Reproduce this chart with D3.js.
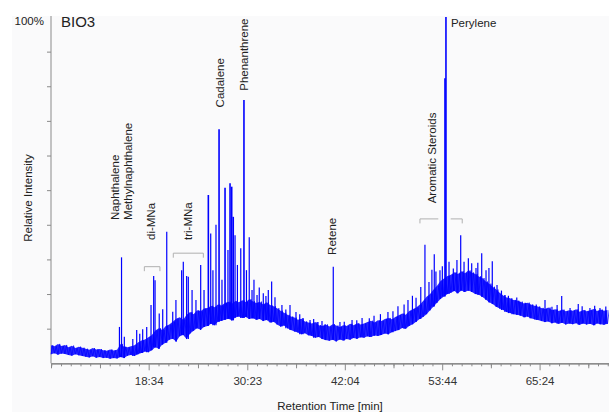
<!DOCTYPE html>
<html>
<head>
<meta charset="utf-8">
<script src="https://cdn.jsdelivr.net/npm/d3@7"></script>
<style>
  body { margin: 0; background: #fff; }
  svg { display: block; font-family: "Liberation Sans", Arial, sans-serif; }
</style>
</head>
<body>
<div id="chart-area"></div>
<script>
// chromatogram BIO3 - tiempo en segundos, intensidad en %
const majorTicks = [1114, 1823, 2524, 3224, 3924]
const tStart = 412, tEnd = 4423, tStep = 25

// envolvente del ruido de fondo (min / max por muestra)
const lowerEnv = [
  2.6,2.9,2.5,2.8,2.7, 2.4,2.2,2.6,2.3,2.1, 1.9,1.7,2.0,1.6,1.8, 1.5,1.6,1.3,1.5,1.4,
  1.8,1.5,2.2,2.4,2.1, 2.6,3.0,3.4,3.2,3.8, 4.6,4.2,5.4,5.9,6.8, 7.1,6.3,7.8,8.2,7.0,
  8.6,9.4,10.1,9.7,10.5, 10.8,11.4,11.0,12.0,12.3, 12.6,12.9,12.4,13.2,13.5, 13.1,13.4,12.8,13.0,12.6,
  12.8,12.2,12.5,11.8,12.0, 11.2,10.6,10.9,10.1,9.6, 9.2,8.9,8.4,8.7,8.1, 7.9,7.4,7.6,7.0,6.7,
  6.5,6.8,6.3,6.9,6.6, 7.0,6.8,7.3,7.1,7.5, 7.4,7.8,7.6,8.0,7.9, 8.2,8.6,8.4,9.0,9.3,
  9.6,10.2,10.0,10.8,11.3, 12.0,12.8,13.4,14.2,15.3, 16.4,17.5,18.6,19.3,20.0, 20.4,20.9,20.2,21.0,20.6,
  21.0,20.6,20.0,19.8,19.2, 18.4,17.6,17.1,16.3,15.8, 15.4,14.8,14.5,14.2,14.0, 13.8,13.3,13.5,13.0,12.7,
  12.5,12.2,11.9,12.1,11.6, 11.8,11.4,11.7,11.2,11.5, 11.3,11.6,11.1,11.5,11.2, 11.4,11.0,11.5,11.3,11.1,11.4
]
const upperEnv = [
  5.2,4.9,5.6,5.0,5.3, 4.6,5.1,4.4,4.8,4.5, 4.2,3.9,4.4,4.0,4.1, 3.8,3.6,4.0,3.7,3.9,
  5.6,4.8,4.6,4.9,5.2, 6.0,6.6,6.9,7.5,8.2, 9.5,10.1,9.6,10.8,11.2, 12.0,12.9,13.3,12.6,14.0,
  14.8,14.2,15.3,15.0,15.8, 16.0,16.6,16.2,17.0,16.7, 17.4,17.8,17.2,18.0,17.6, 18.2,17.7,18.5,17.9,17.4,
  17.8,17.0,17.6,16.8,16.5, 15.9,15.2,14.6,14.0,13.5, 13.2,12.6,12.9,12.1,11.8, 11.5,11.9,11.0,10.8,11.2,
  10.6,11.3,10.9,10.5,11.0, 10.8,11.4,11.0,11.6,11.2, 11.5,11.9,12.3,11.8,12.4, 12.2,12.8,13.1,12.7,13.4,
  13.9,14.4,14.0,15.1,15.6, 16.1,16.9,18.0,19.2,20.0, 21.3,22.4,23.8,24.5,25.2, 25.6,26.3,25.8,26.6,26.0,
  26.8,26.2,25.8,25.1,24.6, 23.6,23.0,22.1,21.3,20.4, 19.6,19.0,18.8,18.3,18.1, 17.8,17.3,17.5,17.0,16.6,
  16.4,16.0,15.7,16.1,15.4, 15.6,15.1,15.5,15.0,15.3, 15.2,15.6,14.9,15.4,15.0, 15.3,15.7,15.1,15.5,15.2,15.4
]

// picos [tiempo, intensidad]
const peaks = [
  [904,10.5],[919,30.6],[939,7.7],[1000,7.0],[1028,9.6],[1050,8.5],[1071,9.8],[1100,10.5],[1131,16.8],[1150,25.2],
  [1160,24.0],[1190,14.4],[1215,15.6],[1244,38.0],[1287,14.9],[1310,18.3],[1351,26.9],[1363,29.3],
  [1387,25.2],[1399,25.0],[1426,21.2],[1454,18.3],[1488,28.4],[1512,21.2],[1543,48.6],[1560,37.5],
  [1576,26.9],[1598,40.0],[1620,67.6],[1641,24.1],[1663,50.7],[1684,32.7],[1699,52.0],[1711,51.0],
  [1722,42.3],[1735,37.0],[1752,28.4],[1776,33.2],[1799,76.0],[1817,26.9],[1837,36.4],[1857,21.2],
  [1871,24.1],[1893,19.7],[1909,21.9],[1938,20.2],[1957,19.4],[1974,21.2],[1998,23.6],[2022,19.1],
  [2072,16.8],[2100,15.5],[2130,16.8],[2173,14.8],[2200,14.2],[2223,13.1],[2274,12.5],[2300,12.8],[2331,11.9],
  [2360,12.2],[2382,11.3],[2441,27.9],[2489,11.9],[2520,12.0],[2576,12.5],[2610,12.4],[2648,13.1],[2700,13.0],
  [2734,13.7],[2780,14.2],[2834,14.8],[2870,15.0],[2906,16.5],[2950,17.0],[2978,18.3],[3010,19.5],[3036,18.9],
  [3070,22.0],[3100,34.2],[3129,23.5],[3150,27.0],[3167,31.5],[3179,26.5],[3208,26.9],[3225,28.0],[3244,82.3],
  [3251,100],[3273,29.3],[3304,27.4],[3330,29.8],[3357,37.0],[3381,29.3],[3412,30.3],[3436,28.9],[3467,27.5],
  [3480,29.0],[3508,31.8],[3539,26.9],[3560,27.5],[3584,29.5],[3618,22.6],[3650,21.0],[3675,19.7],[3700,19.5],
  [3726,18.3],[3760,19.0],[3783,17.7],[3820,17.5],[3855,16.8],[3900,17.0],[3963,18.3],[4013,16.3],[4050,16.8],
  [4083,19.4],[4143,16.0],[4202,17.1],[4230,16.5],[4286,16.0],[4320,16.6],[4358,16.0],[4400,16.4]
]

// etiquetas de compuestos [nombre, tiempo, intensidad]
const compounds = [
  ["Naphthalene", 901, 41.4],
  ["Methylnaphthalene", 994, 41.4],
  ["di-MNa", 1163, 35.6],
  ["tri-MNa", 1425, 35.6],
  ["Cadalene", 1655, 73.9],
  ["Phenanthrene", 1828, 78.7],
  ["Retene", 2461, 31.3],
  ["Aromatic Steroids", 3183, 46.2]
]
// corchetes [t inicio, t fin, intensidad, extremo izq, extremo der]
const brackets = [
  [1083, 1195, 27.9, true, true],
  [1291, 1507, 31.8, true, true],
  [3064, 3196, 41.7, true, false],
  [3285, 3368, 41.7, false, true]
]

const width = 609, height = 412

const svg = d3.select("#chart-area").append("svg")
    .attr("width", width)
    .attr("height", height)

svg.append("rect")
    .attr("x", 12).attr("y", 16)
    .attr("width", width - 12).attr("height", height - 16)
    .attr("fill", "#fafafb")

const x = d3.scaleLinear().domain([tStart, tEnd]).range([51, 609])
const y = d3.scaleLinear().domain([0, 100]).range([363.3, 17])

// ticks menores / medios
let minor = [], medium = []
for (let k = 1; k <= 10; k++) { if (majorTicks[0] - 70 * k >= tStart) minor.push(majorTicks[0] - 70 * k) }
medium.push(majorTicks[0] - 350)
for (let i = 0; i < majorTicks.length - 1; i++) {
  const a = majorTicks[i], b = majorTicks[i + 1]
  for (let k = 1; k < 10; k++) minor.push(a + (b - a) * k / 10)
  medium.push(a + (b - a) / 2)
}
const last = majorTicks[majorTicks.length - 1]
for (let k = 1; last + 70 * k <= tEnd; k++) minor.push(last + 70 * k)
medium.push(last + 350)

const fmt = d => Math.floor(d / 60) + ":" + String(d % 60).padStart(2, "0")

const gx = svg.append("g").attr("transform", "translate(0,363.3)")
gx.append("g").call(d3.axisBottom(x).tickValues(minor).tickSize(3).tickFormat(""))
gx.append("g").call(d3.axisBottom(x).tickValues(medium).tickSize(5).tickFormat(""))
gx.append("g").call(d3.axisBottom(x).tickValues(majorTicks).tickSize(7).tickSizeOuter(0).tickPadding(7).tickFormat(fmt))
gx.selectAll("path.domain").attr("stroke", "#8a8a8a")
gx.selectAll(".tick line").attr("stroke", "#8a8a8a")
gx.selectAll(".tick text").attr("fill", "#333").style("font-size", "11.5px").style("font-family", "Liberation Sans, Arial, sans-serif")

const gy = svg.append("g").attr("transform", "translate(51,0)")
gy.call(d3.axisLeft(y).tickValues(d3.range(10, 100, 10)).tickSize(4).tickSizeOuter(0).tickFormat(""))
gy.select("path.domain").attr("stroke", "#8a8a8a").attr("d", "M0,16V363.3")
gy.selectAll(".tick line").attr("stroke", "#8a8a8a")

// banda de ruido
const tOf = i => tStart + i * tStep
const band = d3.area()
    .x((d, i) => x(tOf(i)))
    .y0(d => y(d[0]))
    .y1(d => y(d[1]))
svg.append("path")
    .attr("d", band(d3.zip(lowerEnv, upperEnv)))
    .attr("fill", "#1010ff")
    .attr("fill-opacity", 0.9)

// traza en zigzag por encima
const trace = []
lowerEnv.forEach((lo, i) => {
  trace.push([x(tOf(i)), y(lo)])
  trace.push([x(tOf(i) + tStep / 2), y(upperEnv[i])])
})
svg.append("path")
    .attr("d", d3.line()(trace))
    .attr("fill", "none")
    .attr("stroke", "#0000ff")
    .attr("stroke-width", 0.9)
    .attr("stroke-opacity", 0.8)

const baseAt = t => lowerEnv[Math.max(0, Math.min(lowerEnv.length - 1, Math.round((t - tStart) / tStep)))]

svg.append("g").selectAll("line")
  .data(peaks)
  .join("line")
    .attr("x1", d => x(d[0])).attr("x2", d => x(d[0]))
    .attr("y1", d => y(baseAt(d[0])))
    .attr("y2", d => y(d[1]))
    .attr("stroke", "#0000ff")
    .attr("stroke-width", d => d[1] > 40 ? 1.6 : 1.2)

// corchetes
const bk = svg.append("g").attr("stroke", "#b0b0b0").attr("fill", "none")
brackets.forEach(b => {
  const x0 = x(b[0]), x1 = x(b[1]), yy = y(b[2])
  let d = (b[3] ? `M${x0},${yy + 4.5}V${yy}` : `M${x0},${yy}`) + `H${x1}` + (b[4] ? `V${yy + 4.5}` : "")
  bk.append("path").attr("d", d)
})

// textos
svg.append("g").selectAll("text")
  .data(compounds)
  .join("text")
    .attr("transform", d => `translate(${x(d[1])},${y(d[2])}) rotate(-90)`)
    .attr("fill", "#222")
    .style("font-size", "11.5px")
    .text(d => d[0])

svg.append("text")
    .attr("x", x(3287)).attr("y", 27)
    .attr("fill", "#222").style("font-size", "11.5px")
    .text("Perylene")

svg.append("text")
    .attr("x", 44).attr("y", 25)
    .attr("text-anchor", "end")
    .attr("fill", "#222").style("font-size", "11.5px")
    .text("100%")

svg.append("text")
    .attr("x", 61).attr("y", 27)
    .attr("fill", "#222").style("font-size", "15px")
    .text("BIO3")

svg.append("text")
    .attr("transform", "translate(32,198) rotate(-90)")
    .attr("text-anchor", "middle")
    .attr("fill", "#222").style("font-size", "11.5px")
    .text("Relative Intensity")

svg.append("text")
    .attr("x", 330).attr("y", 410)
    .attr("text-anchor", "middle")
    .attr("fill", "#222").style("font-size", "11.5px")
    .text("Retention Time [min]")
</script>
</body>
</html>
